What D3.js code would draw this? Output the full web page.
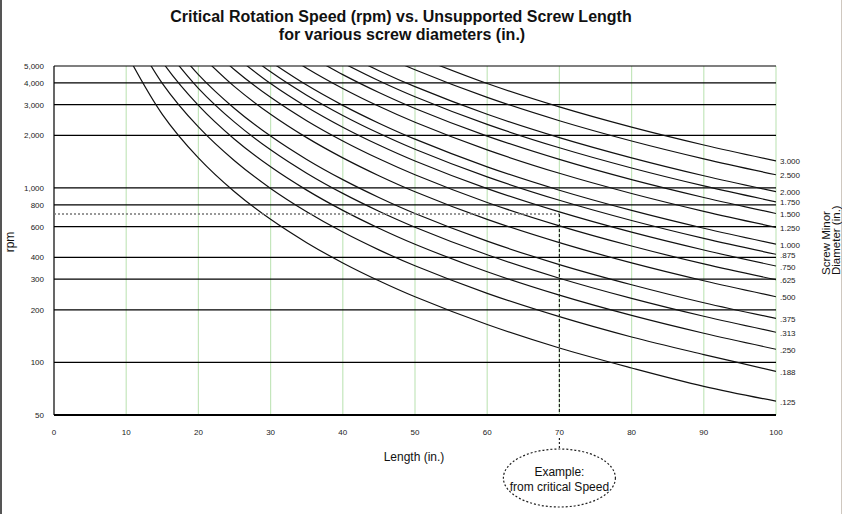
<!DOCTYPE html>
<html>
<head>
<meta charset="utf-8">
<script src="https://cdn.jsdelivr.net/npm/d3@7"></script>
<style>
  body { margin: 0; background: #fff; }
  svg { display: block; font-family: "Liberation Sans", Arial, sans-serif; }
</style>
</head>
<body>
<script>
// unsupported length (in.) at which each curve was read
var lengths = [10, 15, 20, 25, 30, 35, 40, 45, 50, 60, 70, 80, 90, 100];

// critical speed (rpm), null = off the top of the chart
var rpm3000 = [null, null, null, null, null, null, null, null, 5712, 3967, 2914, 2231, 1763, 1428];
var rpm2500 = [null, null, null, null, null, null, null, 5876, 4760, 3306, 2429, 1859, 1469, 1190];
var rpm2000 = [null, null, null, null, null, null, 5950, 4701, 3808, 2644, 1943, 1488, 1175, 952];
var rpm1750 = [null, null, null, null, null, null, 5206, 4114, 3332, 2314, 1700, 1302, 1028, 833];
var rpm1500 = [null, null, null, null, null, 5829, 4463, 3526, 2856, 1983, 1457, 1116, 882, 714];
var rpm1250 = [null, null, null, null, 6611, 4857, 3719, 2938, 2380, 1653, 1214, 930, 735, 595];
var rpm1000 = [null, null, null, null, 5289, 3886, 2975, 2351, 1904, 1322, 971, 744, 588, 476];
var rpm875  = [null, null, null, 6664, 4628, 3400, 2603, 2057, 1666, 1157, 850, 651, 514, 417];
var rpm750  = [null, null, null, 5712, 3967, 2914, 2231, 1763, 1428, 992, 729, 558, 441, 357];
var rpm625  = [null, null, 7438, 4760, 3306, 2429, 1859, 1469, 1190, 826, 607, 465, 367, 298];
var rpm500  = [null, null, 5950, 3808, 2645, 1943, 1488, 1176, 952, 661, 486, 372, 294, 238];
var rpm375  = [null, 7934, 4463, 2856, 1983, 1457, 1116, 882, 714, 496, 364, 279, 220, 179];
var rpm313  = [null, 6622, 3725, 2384, 1655, 1216, 931, 736, 596, 414, 304, 233, 184, 149];
var rpm250  = [11900, 5289, 2975, 1904, 1322, 972, 744, 588, 476, 331, 243, 186, 147, 119];
var rpm188  = [8949, 3977, 2237, 1432, 994, 731, 559, 442, 358, 249, 183, 140, 111, 89];
var rpm125  = [5950, 2644, 1488, 952, 661, 486, 372, 294, 238, 165, 121, 93, 73, 60];

var diameterLabels = ["3.000", "2.500", "2.000", "1.750", "1.500", "1.250", "1.000", ".875",
                      ".750", ".625", ".500", ".375", ".313", ".250", ".188", ".125"];
var curves = [rpm3000, rpm2500, rpm2000, rpm1750, rpm1500, rpm1250, rpm1000, rpm875,
              rpm750, rpm625, rpm500, rpm375, rpm313, rpm250, rpm188, rpm125];

var yTicks = [50, 100, 200, 300, 400, 600, 800, 1000, 2000, 3000, 4000, 5000];
var xTicks = [0, 10, 20, 30, 40, 50, 60, 70, 80, 90, 100];

// worked example marked on the chart
var exampleLength = 70,
    exampleRpm = 710;

var width = 842,
    height = 514;

var svg = d3.select("body")
    .append("svg")
    .attr("width", width)
    .attr("height", height);

var x = d3.scaleLinear().domain([0, 100]).range([54, 776]);
var y = d3.scaleLog().domain([50, 5000]).range([415, 66]);

// frame edges
svg.append("line").attr("x1", 1).attr("x2", 1).attr("y1", 0).attr("y2", height)
    .attr("stroke", "#555").attr("stroke-width", 2);
svg.append("line").attr("x1", 841.5).attr("x2", 841.5).attr("y1", 0).attr("y2", height)
    .attr("stroke", "#cfc8c0").attr("stroke-width", 1);

// title
var title = svg.append("text")
    .attr("text-anchor", "middle")
    .attr("font-weight", "bold")
    .attr("font-size", 16)
    .attr("fill", "#111");
title.append("tspan").attr("x", 401).attr("y", 22).text("Critical Rotation Speed (rpm) vs. Unsupported Screw Length");
title.append("tspan").attr("x", 402).attr("y", 40).text("for various screw diameters (in.)");

// vertical grid (green)
svg.selectAll(".vgrid")
    .data(xTicks.filter(function(d){ return d > 0; }))
    .enter()
    .append("line")
    .attr("class", "vgrid")
    .attr("x1", function(d){ return x(d); })
    .attr("x2", function(d){ return x(d); })
    .attr("y1", y(5000))
    .attr("y2", y(50))
    .attr("stroke", "#c4e6bc")
    .attr("stroke-width", 1.2);

// horizontal grid (black)
svg.selectAll(".hgrid")
    .data(yTicks)
    .enter()
    .append("line")
    .attr("class", "hgrid")
    .attr("x1", x(0))
    .attr("x2", x(100))
    .attr("y1", function(d){ return y(d); })
    .attr("y2", function(d){ return y(d); })
    .attr("stroke", "#000")
    .attr("stroke-width", function(d){ return d == 50 ? 2 : 1.2; });

// left axis line
svg.append("line")
    .attr("x1", x(0)).attr("x2", x(0))
    .attr("y1", y(5000)).attr("y2", y(50))
    .attr("stroke", "#000").attr("stroke-width", 1.2);

// y tick labels
svg.selectAll(".ylab")
    .data(yTicks)
    .enter()
    .append("text")
    .attr("class", "ylab")
    .attr("x", 44)
    .attr("y", function(d){ return y(d) + 3; })
    .attr("text-anchor", "end")
    .attr("font-size", 8)
    .attr("fill", "#222")
    .text(d3.format(","));

// x tick labels
svg.selectAll(".xlab")
    .data(xTicks)
    .enter()
    .append("text")
    .attr("class", "xlab")
    .attr("x", function(d){ return x(d); })
    .attr("y", 435)
    .attr("text-anchor", "middle")
    .attr("font-size", 8)
    .attr("fill", "#222")
    .text(function(d){ return d; });

// curves
svg.append("clipPath").attr("id", "plot")
    .append("rect")
    .attr("x", x(0)).attr("y", y(5000))
    .attr("width", x(100) - x(0)).attr("height", y(50) - y(5000));

var line = d3.line()
    .defined(function(d){ return d != null; })
    .x(function(d, i){ return x(lengths[i]); })
    .y(function(d){ return y(d); })
    .curve(d3.curveCatmullRom);

svg.append("g")
    .attr("clip-path", "url(#plot)")
    .selectAll(".curve")
    .data(curves)
    .enter()
    .append("path")
    .attr("class", "curve")
    .attr("d", line)
    .attr("fill", "none")
    .attr("stroke", "#111")
    .attr("stroke-width", 1.2);

// diameter labels at the right end of each curve
svg.selectAll(".dlab")
    .data(curves)
    .enter()
    .append("text")
    .attr("class", "dlab")
    .attr("x", 780)
    .attr("y", function(d){ return y(d[d.length - 1]) + 3.5; })
    .attr("font-size", 8)
    .attr("fill", "#222")
    .text(function(d, i){ return diameterLabels[i]; });

// example: dashed guide lines
svg.append("line")
    .attr("x1", x(0)).attr("x2", x(exampleLength))
    .attr("y1", y(exampleRpm)).attr("y2", y(exampleRpm))
    .attr("stroke", "#777").attr("stroke-width", 1.5)
    .attr("stroke-dasharray", "2,2");
svg.append("line")
    .attr("x1", x(exampleLength)).attr("x2", x(exampleLength))
    .attr("y1", y(exampleRpm)).attr("y2", y(50))
    .attr("stroke", "#222").attr("stroke-width", 1.2)
    .attr("stroke-dasharray", "3,2");
svg.append("line")
    .attr("x1", x(exampleLength)).attr("x2", x(exampleLength))
    .attr("y1", 438).attr("y2", 449)
    .attr("stroke", "#222").attr("stroke-width", 1.2)
    .attr("stroke-dasharray", "2,2");

svg.append("ellipse")
    .attr("cx", x(exampleLength)).attr("cy", 478)
    .attr("rx", 56).attr("ry", 29)
    .attr("fill", "none")
    .attr("stroke", "#222")
    .attr("stroke-width", 1.2)
    .attr("stroke-dasharray", "2,2");

var note = svg.append("text")
    .attr("text-anchor", "middle")
    .attr("font-size", 12)
    .attr("fill", "#111");
note.append("tspan").attr("x", x(exampleLength)).attr("y", 476).text("Example:");
note.append("tspan").attr("x", x(exampleLength)).attr("y", 491).text("from critical Speed");

// axis titles
svg.append("text")
    .attr("x", 414).attr("y", 461)
    .attr("text-anchor", "middle")
    .attr("font-size", 12)
    .attr("fill", "#111")
    .text("Length (in.)");

svg.append("text")
    .attr("transform", "translate(14,242) rotate(-90)")
    .attr("text-anchor", "middle")
    .attr("font-size", 12)
    .attr("fill", "#111")
    .text("rpm");

var side = svg.append("text")
    .attr("transform", "translate(0,275) rotate(-90)")
    .attr("font-size", 11.5)
    .attr("fill", "#111");
side.append("tspan").attr("x", 0).attr("y", 830).text("Screw Minor");
side.append("tspan").attr("x", 0).attr("y", 839.5).attr("dy", 0).text("Diameter (in.)");
</script>
</body>
</html>
